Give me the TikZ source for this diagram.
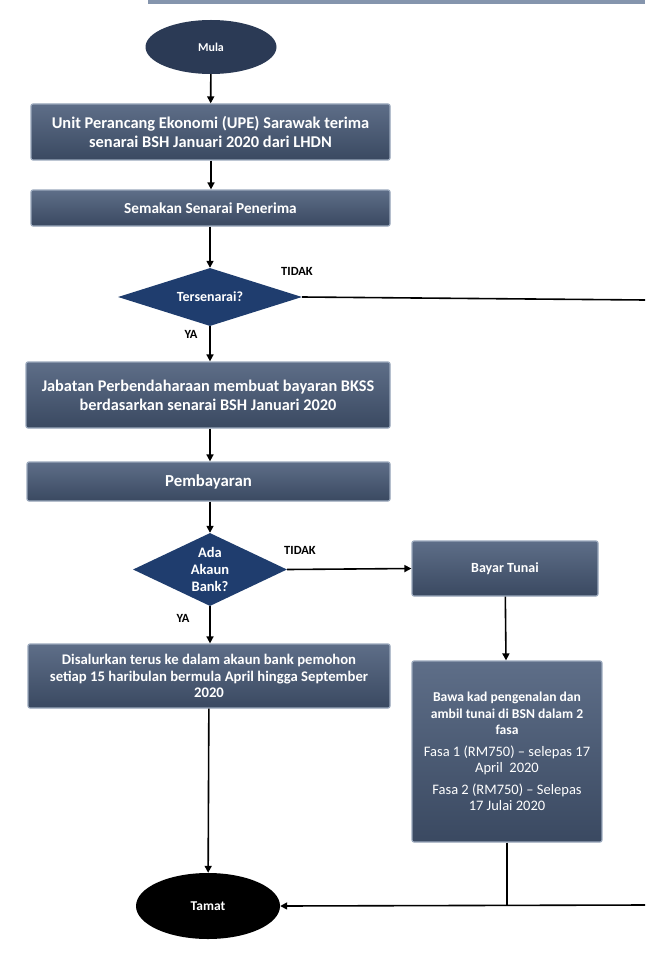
\documentclass[tikz,border=0pt]{standalone}
\usepackage{fontspec}
\setmainfont{Carlito}
\usetikzlibrary{shapes.geometric,arrows.meta}
\definecolor{boxtop}{HTML}{5E6E88}
\definecolor{boxbot}{HTML}{3A4961}
\definecolor{boxedge}{HTML}{9AA8BC}
\definecolor{dia}{HTML}{1F3D6E}
\definecolor{oval}{HTML}{2B3A55}
\definecolor{topbar}{HTML}{8595AD}
\newcommand\fasafont{\mdseries\fontsize{14.5}{16.5}\selectfont}
\tikzset{
  procbox/.style={rectangle, rounded corners=2pt, top color=boxtop, bottom color=boxbot,
    draw=boxedge, line width=1.2pt, text=white, font=\bfseries\fontsize{16.4}{18.5}\selectfont,
    align=center, inner sep=2pt},
  decbox/.style={diamond, fill=dia, text=white, font=\bfseries\fontsize{14}{17}\selectfont,
    align=center, inner sep=0pt},
  termbox/.style={ellipse, text=white, font=\bfseries\fontsize{12}{14}\selectfont, inner sep=0pt},
  lbl/.style={font=\bfseries\fontsize{12.5}{14}\selectfont, text=black},
  flow/.style={line width=1.6pt, -{Triangle[length=7pt,width=7pt]}},
  plain/.style={line width=1.6pt}
}
\begin{document}
\begin{tikzpicture}[x=1pt,y=-1pt]
\useasboundingbox (0,0) rectangle (645,960);
\fill[topbar] (148,0) rectangle (645,4);

\node[termbox, fill=oval, minimum width=131pt, minimum height=54pt] (mula) at (211,47) {Mula};
\node[procbox, minimum width=359pt, minimum height=56pt] (b1) at (210.5,132) {Unit Perancang Ekonomi (UPE) Sarawak terima\\senarai BSH Januari 2020 dari LHDN};
\node[procbox, minimum width=359pt, minimum height=36pt, font=\bfseries\fontsize{15.3}{18}\selectfont] (b2) at (210.5,208) {Semakan Senarai Penerima};
\node[decbox, aspect=3.2, minimum width=184pt, minimum height=58pt] (d1) at (210,297) {Tersenarai?};
\node[procbox, minimum width=364pt, minimum height=66pt, font=\bfseries\fontsize{16.3}{19}\selectfont] (b3) at (208,395) {Jabatan Perbendaharaan membuat bayaran BKSS\\berdasarkan senarai BSH Januari 2020};
\node[procbox, minimum width=363pt, minimum height=39pt, font=\bfseries\fontsize{16.8}{19}\selectfont] (b4) at (208.5,481.5) {Pembayaran};
\node[decbox, aspect=2.1, minimum width=154pt, minimum height=73pt, font=\bfseries\fontsize{14.5}{17}\selectfont] (d2) at (210,569.5) {Ada\\Akaun\\Bank?};
\node[procbox, minimum width=186pt, minimum height=55pt, font=\bfseries\fontsize{14}{16}\selectfont] (bt) at (505,568.5) {Bayar Tunai};
\node[procbox, minimum width=362pt, minimum height=64pt, font=\bfseries\fontsize{14.7}{16.5}\selectfont] (b5) at (209,676) {Disalurkan terus ke dalam akaun bank pemohon\\setiap 15 haribulan bermula April hingga September\\2020};
\node[procbox, minimum width=190pt, minimum height=181pt, font=\bfseries\fontsize{13.6}{16.5}\selectfont] (b6) at (507,751.5) {Bawa kad pengenalan dan\\ambil tunai di BSN dalam 2\\fasa\\[5pt]\fasafont Fasa 1 (RM750) – selepas 17\\\fasafont April~~2020\\[5pt]\fasafont Fasa 2 (RM750) – Selepas\\\fasafont 17 Julai 2020};
\node[termbox, fill=black, minimum width=144pt, minimum height=66pt, font=\bfseries\fontsize{13.5}{15}\selectfont] (tamat) at (208,906) {Tamat};

\coordinate (r1) at (645,300);
\coordinate (r2) at (645,905);
\coordinate (j) at (b6.south |- r2);

\draw[flow] (mula) -- (b1);
\draw[flow] (b1.south -| mula) -- (b2.north -| mula);
\draw[flow] (b2.south -| d1) -- (d1);
\draw[plain] (d1.east) -- (r1);
\draw[flow] (d1) -- (b3.north -| d1);
\draw[flow] (b3.south -| d1) -- (b4.north -| d1);
\draw[flow] (b4.south -| d2) -- (d2);
\draw[flow] (d2.east) -- (bt.west);
\draw[flow] (d2) -- (b5.north -| d2);
\draw[flow] (bt) -- (b6);
\draw[flow] (b5) -- (tamat);
\draw[plain] (b6.south) -- (j);
\draw[flow] (r2) -- (tamat.east);

\node[lbl] (t1) at (297,271) {TIDAK};
\node[lbl] (y1) at (191,334) {YA};
\node[lbl] (t2) at (300,550) {TIDAK};
\node[lbl] (y2) at (183,618) {YA};
\end{tikzpicture}
\end{document}
